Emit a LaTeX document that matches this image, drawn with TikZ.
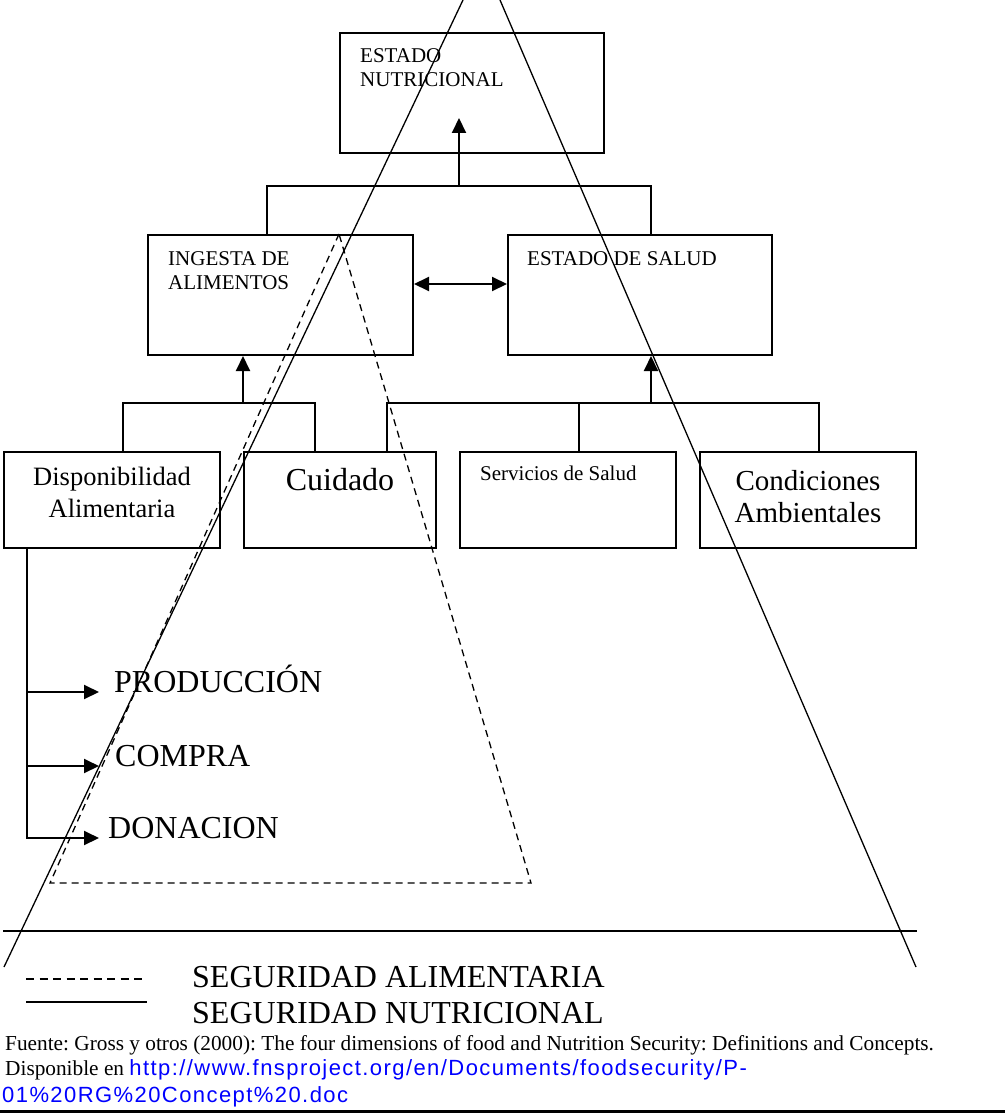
\documentclass[tikz,border=0pt]{standalone}
\usepackage{fontspec}
\setmainfont{Liberation Serif}
\newfontfamily\urlfont[LetterSpace=6.5]{Liberation Sans}
\usepackage{tikz}
\usetikzlibrary{arrows.meta, positioning}
\definecolor{linkblue}{RGB}{0,0,255}
\frenchspacing
\tikzset{
    caja/.style={draw, rectangle, line width=2pt, inner sep=0pt, anchor=north west},
    txtchico/.style={font=\fontsize{21}{24}\selectfont, inner sep=0pt, align=left},
    txtmedio/.style={font=\fontsize{26.5}{32}\selectfont, inner sep=0pt, align=center},
    txtcond/.style={font=\fontsize{29}{32}\selectfont, inner sep=0pt, align=center},
    txtgrande/.style={font=\fontsize{32}{36}\selectfont, inner sep=0pt},
    txtfuente/.style={font=\fontsize{21.3}{25}\selectfont, inner sep=0pt},
    linea/.style={line width=2pt},
    flecha/.style={line width=2pt, -{Triangle[length=15pt,width=14pt]}},
    flechas/.style={line width=2pt, {Triangle[length=15pt,width=14pt]}-{Triangle[length=15pt,width=14pt]}},
    triang/.style={line width=1.3pt},
    trazos/.style={line width=1.3pt, dash pattern=on 7pt off 5pt},
    trazoleyenda/.style={line width=1.5pt, dash pattern=on 8pt off 5.5pt}
}
\begin{document}
\begin{tikzpicture}[x=1pt, y=-1pt]
        \useasboundingbox (0,0) rectangle (1005,1113);

        % -----------------------------------------------------------------
        % CAJAS
        % -----------------------------------------------------------------
        \node[caja, minimum width=264pt, minimum height=120pt] (nut) at (339,32) {};
        \node[caja, minimum width=265pt, minimum height=120pt] (ing) at (147,234) {};
        \node[caja, minimum width=264pt, minimum height=120pt] (sal) at (507,234) {};
        \node[caja, minimum width=216pt, minimum height=96pt] (disp) at (3,451) {};
        \node[caja, minimum width=192pt, minimum height=96pt] (cui) at (243,451) {};
        \node[caja, minimum width=216pt, minimum height=96pt] (ser) at (459,451) {};
        \node[caja, minimum width=216pt, minimum height=96pt] (con) at (699,451) {};

        % la base de un texto de dos lineas es la de la ultima linea
        \node[txtchico, anchor=base west] (nutlbl) at ([shift={(21,55)}]nut.north west) {ESTADO\\NUTRICIONAL};
        \node[txtchico, anchor=base west] (inglbl) at ([shift={(21,55)}]ing.north west) {INGESTA DE\\ALIMENTOS};
        \node[txtchico, anchor=base west] (sallbl) at ([shift={(20,31)}]sal.north west) {ESTADO DE SALUD};
        \node[txtmedio, anchor=base] (displbl) at ([yshift=-66pt]disp.north) {Disponibilidad\\Alimentaria};
        \node[txtgrande, anchor=base] (cuilbl) at ([yshift=-39pt]cui.north) {Cuidado};
        \node[txtchico, anchor=base west] (serlbl) at ([shift={(21,29)}]ser.north west) {Servicios de Salud};
        \node[txtcond, anchor=base] (conlbl) at ([yshift=-71pt]con.north) {Condiciones\\Ambientales};

        % -----------------------------------------------------------------
        % CONECTORES
        % -----------------------------------------------------------------
        \coordinate (jn) at (459,186);
        \coordinate (jl) at (243,403);
        \coordinate (jr) at (651,403);

        \draw[linea] ([xshift=120pt]ing.north west) |- (jn) -| ([xshift=144pt]sal.north west);
        \draw[flecha] (jn) -- ([shift={(120,-36)}]nut.south west);

        \draw[linea] ([xshift=120pt]disp.north west) |- (jl) -| ([xshift=72pt]cui.north west);
        \draw[flecha] (jl) -- (ing.south -| jl);

        \draw[linea] ([xshift=144pt]cui.north west) |- (jr) -| ([xshift=120pt]con.north west);
        \draw[linea] ([xshift=120pt]ser.north west) |- (jr);
        \draw[flecha] (jr) -- (sal.south -| jr);

        \draw[flechas] ([yshift=11pt]ing.east) -- ([yshift=11pt]sal.west);

        % -----------------------------------------------------------------
        % DISPONIBILIDAD
        % -----------------------------------------------------------------
        \node[txtgrande, anchor=base west] (prod) at (114,692) {PRODUCCIÓN};
        \node[txtgrande, anchor=base west] (comp) at (115,766) {COMPRA};
        \node[txtgrande, anchor=base west] (don) at (108,838) {DONACION};

        \coordinate (trunk) at ([xshift=24pt]disp.south west);
        \draw[flecha] (trunk) |- ([xshift=-9pt]don.base west);
        \draw[flecha] (trunk |- prod.base) -- ([xshift=-15pt]prod.base west);
        \draw[flecha] (trunk |- comp.base) -- ([xshift=-16pt]comp.base west);

        % -----------------------------------------------------------------
        % TRIANGULOS
        % -----------------------------------------------------------------
        \draw[triang] (463,0) -- (4,967);
        \draw[triang] (500,0) -- (916,967);
        \draw[trazos] (339,234) -- (50,883) -- (531,883) -- cycle;
        \draw[linea] (3,931) -- (917,931);

        % -----------------------------------------------------------------
        % LEYENDA Y FUENTE
        % -----------------------------------------------------------------
        \draw[trazoleyenda] (26,979) -- (147,979);
        \draw[linea] (26,1002) -- (147,1002);
        \node[txtgrande, anchor=base west] (segali) at (192,987) {SEGURIDAD ALIMENTARIA};
        \node[txtgrande, anchor=base west] (segnut) at (192,1023) {SEGURIDAD NUTRICIONAL};

        \node[txtfuente, anchor=base west] (fuente) at (5,1050) {Fuente: Gross y otros (2000): The four dimensions of food and Nutrition Security: Definitions and Concepts.};
        \node[txtfuente, anchor=base west] (dispon) at (5,1075) {Disponible en {\urlfont\fontsize{22}{25}\selectfont\color{linkblue}http://www.fnsproject.org/en/Documents/foodsecurity/P-}};
        \node[txtfuente, anchor=base west] (url) at (2,1102) {\urlfont\fontsize{22}{25}\selectfont\color{linkblue}01\%20RG\%20Concept\%20.doc};

        \draw[line width=3pt] (0,1111.5) -- (1005,1111.5);

    \end{tikzpicture}
\end{document}
